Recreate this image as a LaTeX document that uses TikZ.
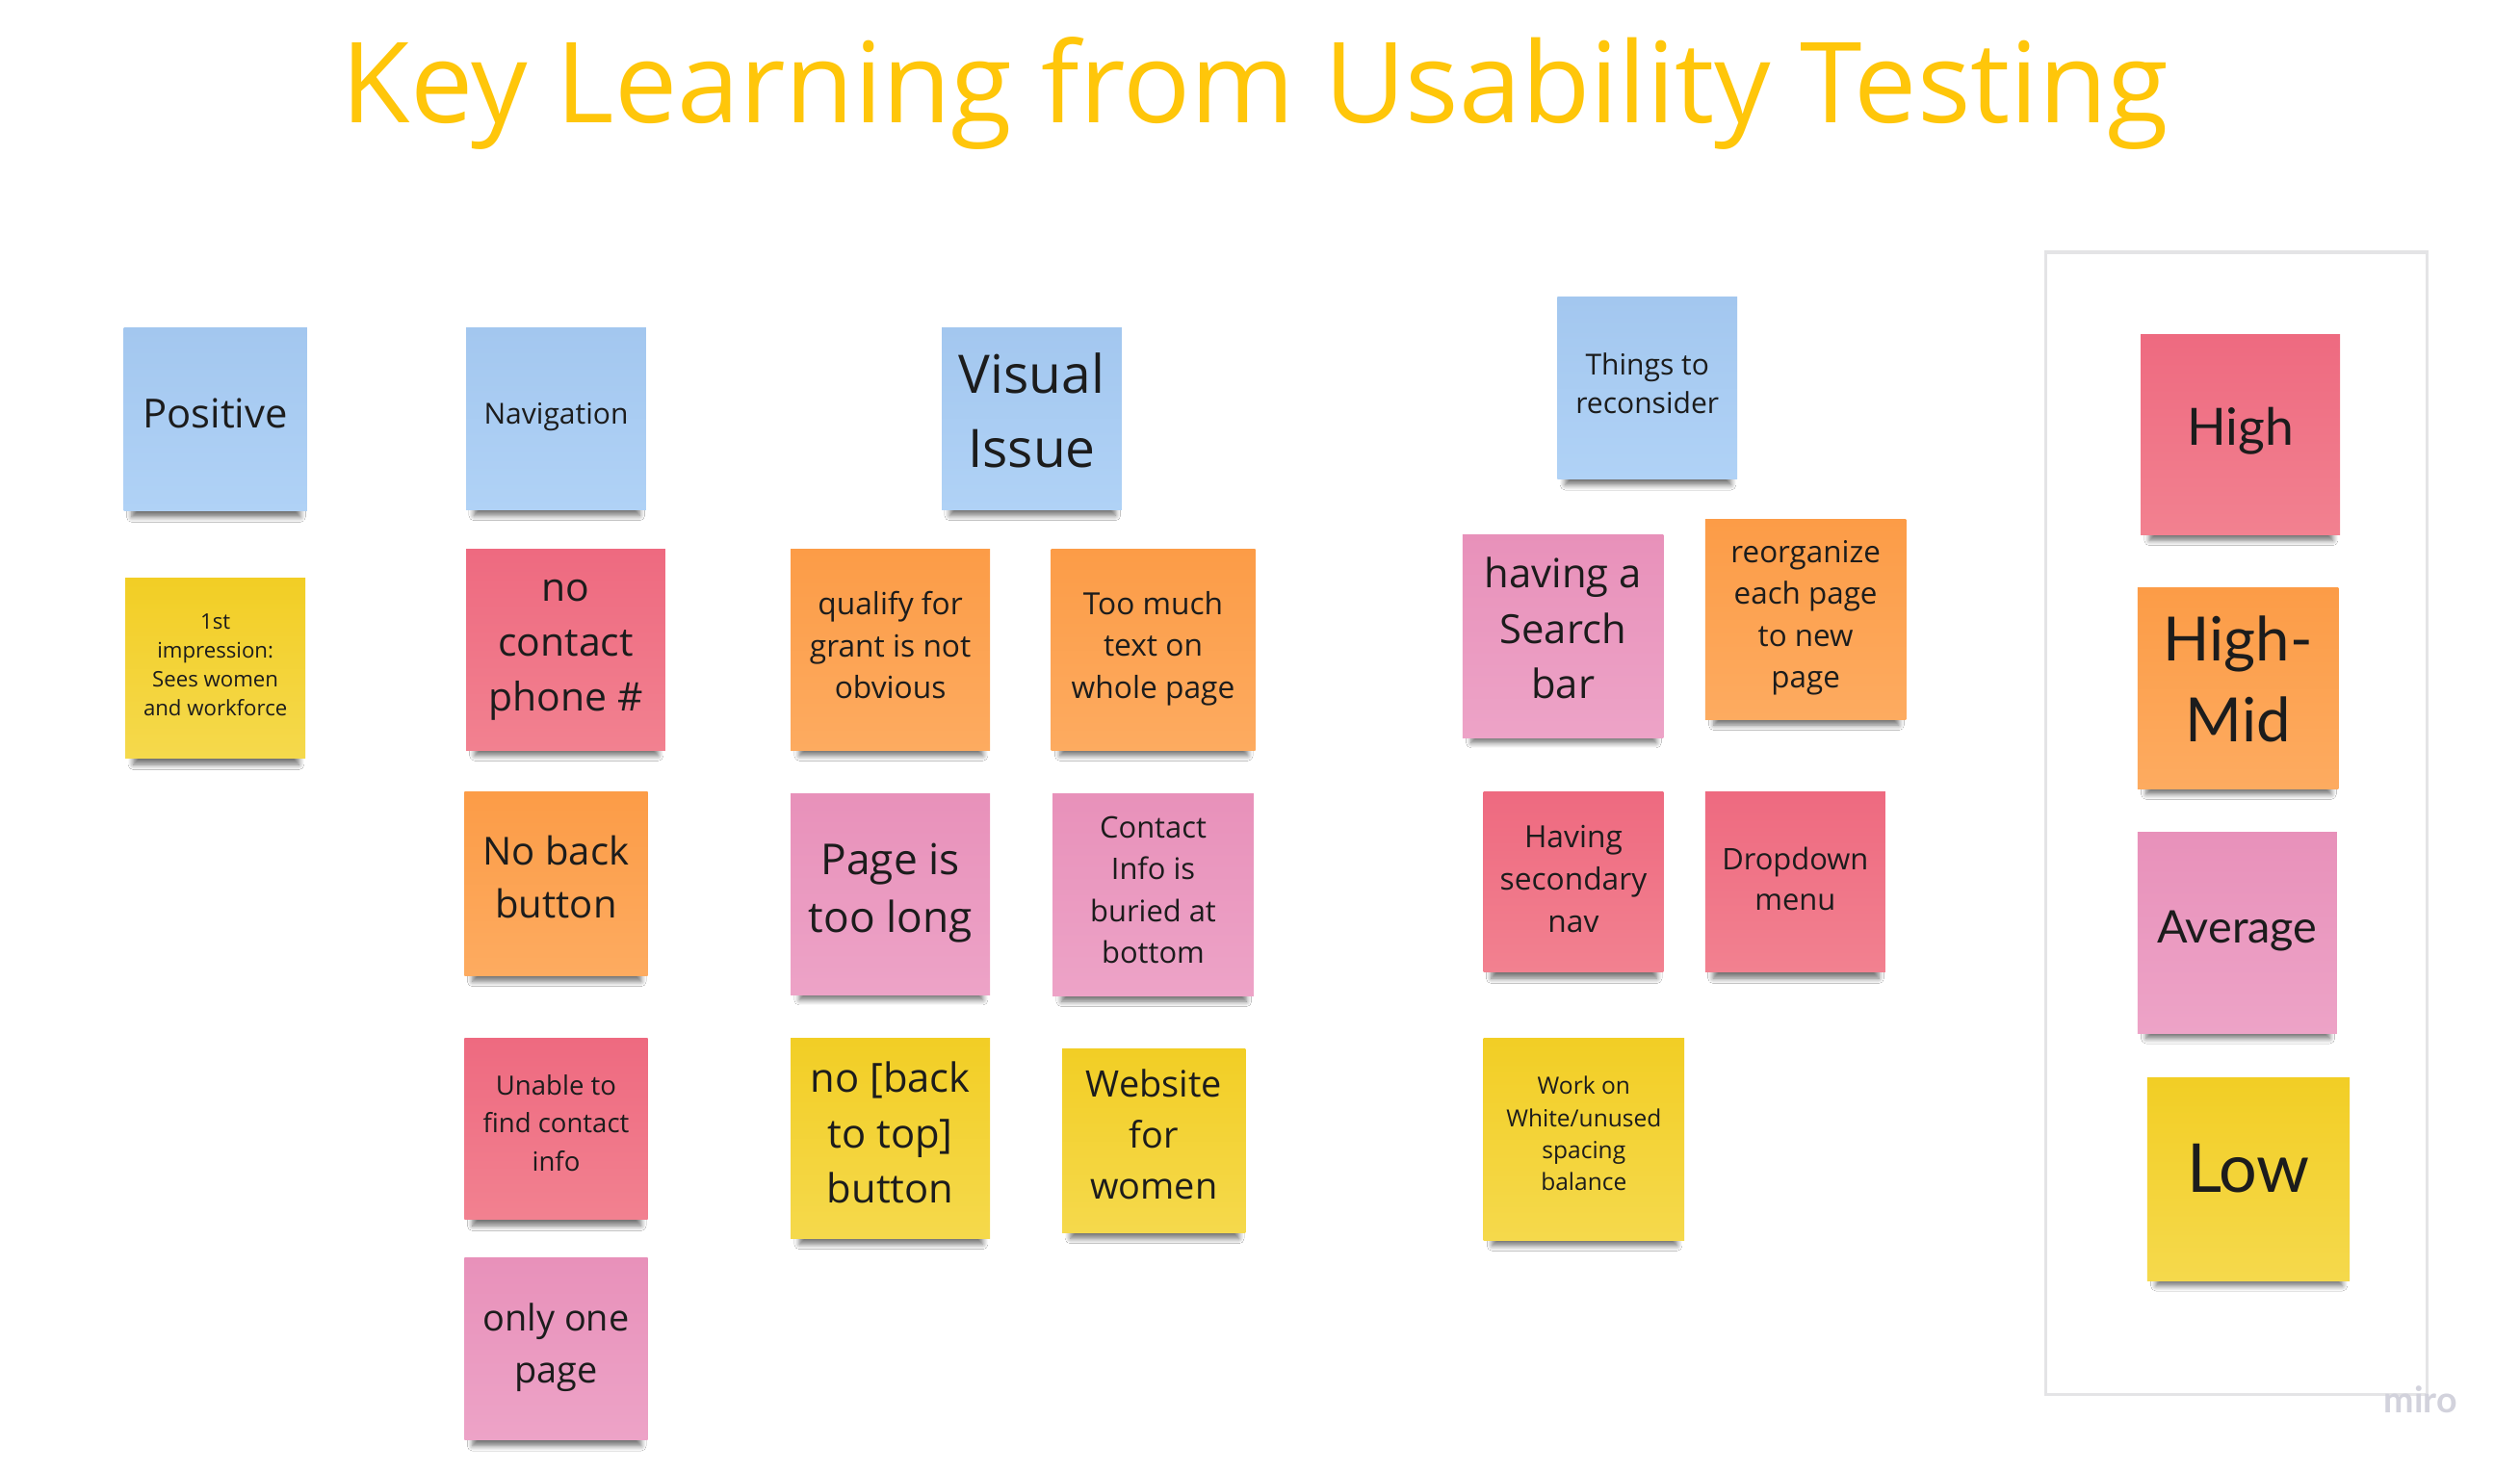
\documentclass[tikz,border=0pt]{standalone}
\usepackage{fontspec}
\setmainfont{Open Sans}
\newfontfamily\latofont{Lato}
\usetikzlibrary{shadows.blur}
\definecolor{ink}{HTML}{1C1C1C}
\definecolor{titleY}{HTML}{FFC60A}
\definecolor{bT}{HTML}{A3C7EF}\definecolor{bB}{HTML}{B0D2F6}
\definecolor{yT}{HTML}{F2CE25}\definecolor{yB}{HTML}{F5D94C}
\definecolor{rT}{HTML}{EE6A80}\definecolor{rB}{HTML}{F28190}
\definecolor{oT}{HTML}{FC9C47}\definecolor{oB}{HTML}{FDAB60}
\definecolor{pT}{HTML}{E891BA}\definecolor{pB}{HTML}{EDA3C7}
\definecolor{frameC}{HTML}{E4E4E6}
\definecolor{miroC}{HTML}{D2D2DC}
\tikzset{
  note/.style={rectangle, inner sep=0pt,
    blur shadow={shadow xshift=0.5pt, shadow yshift=-9pt, shadow scale=0.92,
      shadow opacity=55, shadow blur radius=3.5pt, shadow blur steps=6}},
  bluenote/.style={note, top color=bT, bottom color=bB},
  yellownote/.style={note, top color=yT, bottom color=yB},
  rednote/.style={note, top color=rT, bottom color=rB},
  orangenote/.style={note, top color=oT, bottom color=oB},
  pinknote/.style={note, top color=pT, bottom color=pB},
  sz/.style 2 args={minimum width=#1pt, minimum height=#2pt},
  ntext/.style={align=center, text=ink, inner sep=0pt},
  tx/.style n args={4}{label={[ntext, font=\fontsize{#1}{#2}\selectfont, yshift=#3pt]center:{#4}}},
  ltx/.style n args={4}{label={[ntext, font=\latofont\fontsize{#1}{#2}\selectfont, yshift=#3pt]center:{#4}}},
}
\begin{document}
\begin{tikzpicture}[x=1pt,y=-1pt]
\useasboundingbox (0,0) rectangle (1568,916);
\fill[white] (0,0) rectangle (1568,916);

\node[text=titleY, font=\fontsize{69.7}{80}\selectfont, inner sep=0pt] (title) at (781,58) {Key Learning from Usability Testing};

% frame
\draw[frameC, line width=2pt] (1273,157) rectangle (1510,868);

% column 1
\node[bluenote, sz={114}{114}, tx={25}{32}{4}{Positive}] (pos) at (134,261) {};
\node[yellownote, sz={112}{112}, tx={13.3}{18}{2}{1st\\impression:\\Sees women\\and workforce}] (imp) at (134,416) {};

% column 2
\node[bluenote, sz={112}{113}, tx={18}{24}{1}{Navigation}] (nav) at (346,260.5) {};
\node[rednote, sz={124}{125}, tx={24.5}{34}{0}{no\\contact\\phone \#}] (phone) at (352,404.5) {};
\node[orangenote, sz={114}{114}, tx={24}{33}{4}{No back\\button}] (back) at (346,550) {};
\node[rednote, sz={114}{113}, tx={16.5}{23.5}{3.5}{Unable to\\find contact\\info}] (unable) at (346,702.5) {};
\node[pinknote, sz={114}{113}, tx={22.7}{32}{1}{only one\\page}] (onepage) at (346,839.5) {};

% column 3
\node[bluenote, sz={112}{113}, tx={33}{46}{5}{Visual\\Issue}] (visual) at (642,260.5) {};
\node[orangenote, sz={124}{125}, tx={19}{26}{3}{qualify for\\grant is not\\obvious}] (qualify) at (554,404.5) {};
\node[orangenote, sz={127}{125}, tx={19}{26}{1}{Too much\\text on\\whole page}] (toomuch) at (717.5,404.5) {};
\node[pinknote, sz={124}{125}, tx={26.5}{36}{1}{Page is\\too long}] (pagelong) at (554,556.5) {};
\node[pinknote, sz={125}{126}, tx={18.5}{26}{3}{Contact\\Info is\\buried at\\bottom}] (buried) at (717.5,557) {};
\node[yellownote, sz={124}{125}, tx={25}{34.5}{3.5}{no [back\\to top]\\button}] (backtop) at (554,708.5) {};
\node[yellownote, sz={114}{114}, tx={22.7}{31.5}{4}{Website\\for\\women}] (website) at (718,710) {};

% column 4
\node[bluenote, sz={112}{113}, tx={18}{24}{3}{Things to\\reconsider}] (things) at (1025,241.5) {};
\node[pinknote, sz={125}{126}, tx={25}{34.5}{5}{having a\\Search\\bar}] (search) at (972.5,396) {};
\node[orangenote, sz={125}{125}, tx={18.8}{26}{1}{reorganize\\each page\\to new\\page}] (reorg) at (1123.5,385.5) {};
\node[rednote, sz={112}{112}, tx={19}{26.5}{2}{Having\\secondary\\nav}] (secnav) at (979,549) {};
\node[rednote, sz={112}{112}, tx={18.5}{25}{2}{Dropdown\\menu}] (dropdown) at (1117,549) {};
\node[yellownote, sz={125}{126}, tx={14.7}{20}{3.5}{Work on\\White/unused\\spacing\\balance}] (work) at (985.5,709) {};

% priority panel
\node[rednote, sz={124}{125}, ltx={32}{40}{2}{High}] (high) at (1394,270.5) {};
\node[orangenote, sz={125}{125}, ltx={38}{50}{6}{High-\\Mid}] (highmid) at (1392.5,428.5) {};
\node[pinknote, sz={124}{125}, ltx={28}{36}{1}{Average}] (average) at (1392,580.5) {};
\node[yellownote, sz={126}{126}, ltx={42}{50}{7}{Low}] (low) at (1399,734) {};

\node[text=miroC, font=\latofont\bfseries\fontsize{22.5}{26}\selectfont, inner sep=0pt] (miro) at (1506,871) {miro};
\end{tikzpicture}
\end{document}
